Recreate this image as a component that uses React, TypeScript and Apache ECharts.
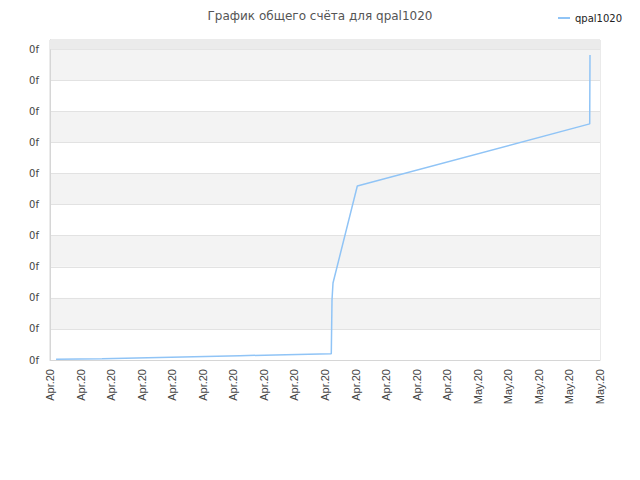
import React, { useEffect, useRef } from "react";
import * as echarts from "echarts";

// Score history of player qpal1020
const playerName = "qpal1020";
const chartTitle = "График общего счёта для qpal1020";

// Sample times (UTC) and total score at each sample
const sampleTimes = [
  "2020-04-04T09:30:00Z",
  "2020-04-07T09:40:00Z",
  "2020-04-10T09:57:00Z",
  "2020-04-13T10:12:00Z",
  "2020-04-16T10:28:00Z",
  "2020-04-19T10:43:00Z",
  "2020-04-22T09:53:00Z",
  "2020-04-22T11:00:00Z",
  "2020-04-22T12:35:00Z",
  "2020-04-24T02:45:00Z",
  "2020-05-09T07:50:00Z",
  "2020-05-09T08:17:00Z",
];
const scoreValues = [0.23, 0.42, 0.74, 1.06, 1.38, 1.71, 2.03, 19.3, 24.8, 56.0, 76.0, 98.2];

// Axis settings
const DAY = 86400000;
const axisStart = Date.UTC(2020, 3, 4); // a multiple of two days
const axisDays = 36;
const tickDays = 2;
const monthNames = ["Jan", "Feb", "Mar", "Apr", "May", "Jun", "Jul", "Aug", "Sep", "Oct", "Nov", "Dec"];
const yMax = 103;
const yInterval = 10;
const yTickLabel = "0f";

export default function App() {
  const ref = useRef<HTMLDivElement>(null);

  useEffect(() => {
    if (!ref.current) return;
    const chart = echarts.init(ref.current, null, { renderer: "svg" });
    const seriesData = sampleTimes.map((t, i) => [Date.parse(t), scoreValues[i]]);

    chart.setOption({
      animation: false,
      backgroundColor: "#ffffff",
      title: {
        text: chartTitle,
        left: "center",
        top: 5,
        textStyle: {
          fontFamily: "DejaVu Sans",
          fontSize: 12,
          fontWeight: "normal",
          color: "#555555",
        },
      },
      legend: {
        left: 553,
        top: 8,
        itemWidth: 12,
        itemHeight: 2,
        itemGap: 5,
        icon: "rect",
        textStyle: { fontFamily: "DejaVu Sans", fontSize: 10, color: "#222222" },
        data: [playerName],
      },
      grid: {
        left: 50,
        right: 40,
        top: 40,
        bottom: 120,
        show: true,
        borderColor: "#d6d6d6",
        borderWidth: 1,
        backgroundColor: "transparent",
      },
      xAxis: {
        type: "value",
        min: axisStart,
        max: axisStart + axisDays * DAY,
        interval: tickDays * DAY,
        axisLine: { show: true, lineStyle: { color: "#d6d6d6" } },
        axisTick: { show: false },
        splitLine: { show: false },
        axisLabel: {
          rotate: 90,
          margin: 9,
          fontFamily: "Liberation Sans",
          fontSize: 11,
          color: "#444444",
          showMinLabel: true,
          showMaxLabel: true,
          formatter: (v: number) => {
            const d = new Date(v);
            return monthNames[d.getUTCMonth()] + "." + String(d.getUTCFullYear()).slice(2);
          },
        },
      },
      yAxis: {
        type: "value",
        min: 0,
        max: yMax,
        interval: yInterval,
        axisLine: { show: true, lineStyle: { color: "#d6d6d6" } },
        axisTick: { show: false },
        splitLine: { show: true, lineStyle: { color: "#e2e2e2" } },
        splitArea: { show: true, areaStyle: { color: ["#ffffff", "#f3f3f3"] } },
        axisLabel: {
          margin: 11,
          fontFamily: "DejaVu Sans",
          fontSize: 10,
          color: "#444444",
          showMaxLabel: false,
          formatter: () => yTickLabel,
        },
      },
      series: [
        {
          name: playerName,
          type: "line",
          data: seriesData,
          showSymbol: false,
          symbol: "none",
          color: "#90c4f6",
          lineStyle: { width: 1.5, color: "#90c4f6" },
          z: 3,
          markArea: {
            silent: true,
            itemStyle: { color: "#ebebeb" },
            data: [[{ yAxis: 100 }, { yAxis: yMax }]],
          },
        },
      ],
    });

    return () => chart.dispose();
  }, []);

  return (
    <div
      ref={ref}
      style={{ position: "fixed", left: 0, top: 0, width: 640, height: 480 }}
    />
  );
}
